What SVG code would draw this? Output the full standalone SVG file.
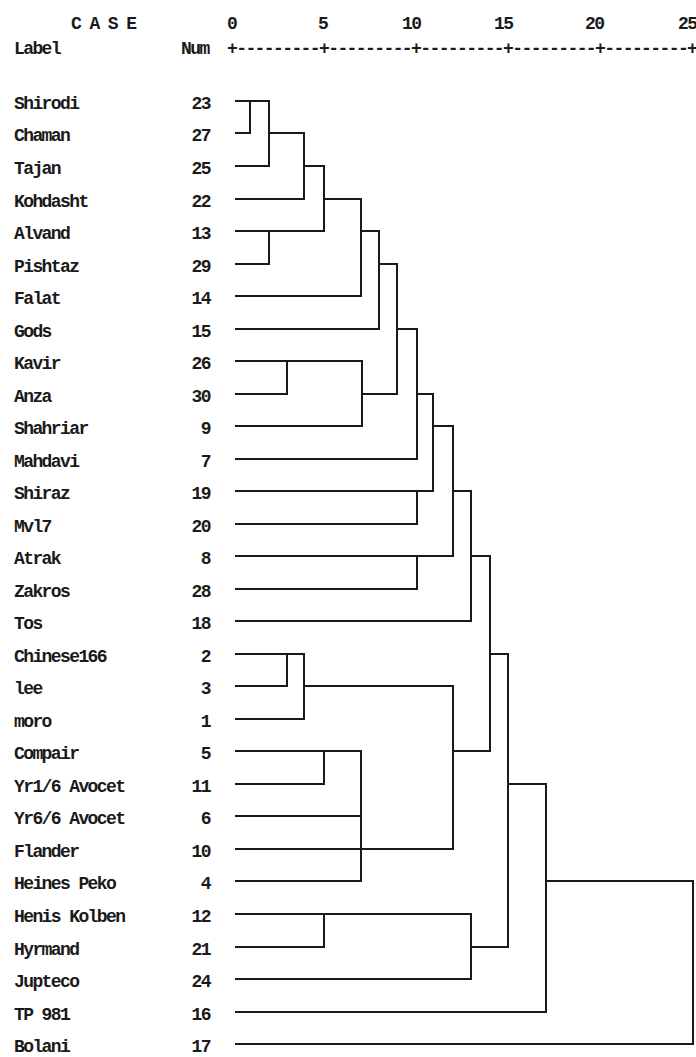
<svg xmlns="http://www.w3.org/2000/svg" width="696" height="1057" viewBox="0 0 696 1057">
<style>
text{font-family:"Liberation Mono","DejaVu Sans Mono",monospace;font-size:18px;letter-spacing:-1.6px;font-weight:bold;fill:#1a1a1a}
.num{text-anchor:end}
#connectors line{stroke:#1a1a1a;stroke-width:2;stroke-linecap:square}
</style>
<rect width="696" height="1057" fill="#fff"/>
<g id="header">
<text x="71" y="29">C A S E</text>
<text x="14" y="54">Label</text>
<text x="181" y="54">Num</text>
<text x="227" y="54">+---------+---------+---------+---------+---------+</text>
<text x="227" y="29">0</text>
<text x="318" y="29">5</text>
<text x="402" y="29">10</text>
<text x="494" y="29">15</text>
<text x="585" y="29">20</text>
<text x="678" y="29">25</text>
</g>
<g id="leaf-shirodi"><text x="14" y="109">Shirodi</text><text class="num" x="210" y="109">23</text></g>
<g id="leaf-chaman"><text x="14" y="141">Chaman</text><text class="num" x="210" y="141">27</text></g>
<g id="leaf-tajan"><text x="14" y="174">Tajan</text><text class="num" x="210" y="174">25</text></g>
<g id="leaf-kohdasht"><text x="14" y="207">Kohdasht</text><text class="num" x="210" y="207">22</text></g>
<g id="leaf-alvand"><text x="14" y="239">Alvand</text><text class="num" x="210" y="239">13</text></g>
<g id="leaf-pishtaz"><text x="14" y="272">Pishtaz</text><text class="num" x="210" y="272">29</text></g>
<g id="leaf-falat"><text x="14" y="304">Falat</text><text class="num" x="210" y="304">14</text></g>
<g id="leaf-gods"><text x="14" y="337">Gods</text><text class="num" x="210" y="337">15</text></g>
<g id="leaf-kavir"><text x="14" y="369">Kavir</text><text class="num" x="210" y="369">26</text></g>
<g id="leaf-anza"><text x="14" y="402">Anza</text><text class="num" x="210" y="402">30</text></g>
<g id="leaf-shahriar"><text x="14" y="434">Shahriar</text><text class="num" x="210" y="434">9</text></g>
<g id="leaf-mahdavi"><text x="14" y="467">Mahdavi</text><text class="num" x="210" y="467">7</text></g>
<g id="leaf-shiraz"><text x="14" y="499">Shiraz</text><text class="num" x="210" y="499">19</text></g>
<g id="leaf-mvl7"><text x="14" y="532">Mvl7</text><text class="num" x="210" y="532">20</text></g>
<g id="leaf-atrak"><text x="14" y="564">Atrak</text><text class="num" x="210" y="564">8</text></g>
<g id="leaf-zakros"><text x="14" y="597">Zakros</text><text class="num" x="210" y="597">28</text></g>
<g id="leaf-tos"><text x="14" y="629">Tos</text><text class="num" x="210" y="629">18</text></g>
<g id="leaf-chinese166"><text x="14" y="662">Chinese166</text><text class="num" x="210" y="662">2</text></g>
<g id="leaf-lee"><text x="14" y="694">lee</text><text class="num" x="210" y="694">3</text></g>
<g id="leaf-moro"><text x="14" y="727">moro</text><text class="num" x="210" y="727">1</text></g>
<g id="leaf-compair"><text x="14" y="759">Compair</text><text class="num" x="210" y="759">5</text></g>
<g id="leaf-yr16"><text x="14" y="792">Yr1/6 Avocet</text><text class="num" x="210" y="792">11</text></g>
<g id="leaf-yr66"><text x="14" y="824">Yr6/6 Avocet</text><text class="num" x="210" y="824">6</text></g>
<g id="leaf-flander"><text x="14" y="857">Flander</text><text class="num" x="210" y="857">10</text></g>
<g id="leaf-heines"><text x="14" y="889">Heines Peko</text><text class="num" x="210" y="889">4</text></g>
<g id="leaf-henis"><text x="14" y="922">Henis Kolben</text><text class="num" x="210" y="922">12</text></g>
<g id="leaf-hyrmand"><text x="14" y="955">Hyrmand</text><text class="num" x="210" y="955">21</text></g>
<g id="leaf-jupteco"><text x="14" y="987">Jupteco</text><text class="num" x="210" y="987">24</text></g>
<g id="leaf-tp981"><text x="14" y="1020">TP 981</text><text class="num" x="210" y="1020">16</text></g>
<g id="leaf-bolani"><text x="14" y="1052">Bolani</text><text class="num" x="210" y="1052">17</text></g>
<g id="connectors">
<line x1="236" y1="101" x2="269" y2="101"/>
<line x1="236" y1="133" x2="250" y2="133"/>
<line x1="236" y1="166" x2="269" y2="166"/>
<line x1="236" y1="199" x2="304" y2="199"/>
<line x1="236" y1="231" x2="324" y2="231"/>
<line x1="236" y1="264" x2="269" y2="264"/>
<line x1="236" y1="296" x2="361" y2="296"/>
<line x1="236" y1="329" x2="379" y2="329"/>
<line x1="236" y1="361" x2="362" y2="361"/>
<line x1="236" y1="394" x2="287" y2="394"/>
<line x1="236" y1="426" x2="362" y2="426"/>
<line x1="236" y1="459" x2="417" y2="459"/>
<line x1="236" y1="491" x2="433" y2="491"/>
<line x1="236" y1="524" x2="417" y2="524"/>
<line x1="236" y1="556" x2="453" y2="556"/>
<line x1="236" y1="589" x2="417" y2="589"/>
<line x1="236" y1="621" x2="471" y2="621"/>
<line x1="236" y1="654" x2="304" y2="654"/>
<line x1="236" y1="686" x2="287" y2="686"/>
<line x1="236" y1="719" x2="304" y2="719"/>
<line x1="236" y1="751" x2="361" y2="751"/>
<line x1="236" y1="784" x2="324" y2="784"/>
<line x1="236" y1="816" x2="361" y2="816"/>
<line x1="236" y1="849" x2="453" y2="849"/>
<line x1="236" y1="881" x2="361" y2="881"/>
<line x1="236" y1="914" x2="471" y2="914"/>
<line x1="236" y1="947" x2="324" y2="947"/>
<line x1="236" y1="979" x2="471" y2="979"/>
<line x1="236" y1="1012" x2="546" y2="1012"/>
<line x1="236" y1="1044" x2="693" y2="1044"/>
<line x1="250" y1="101" x2="250" y2="133"/>
<line x1="269" y1="101" x2="269" y2="166"/>
<line x1="269" y1="231" x2="269" y2="264"/>
<line x1="304" y1="133" x2="304" y2="199"/>
<line x1="324" y1="166" x2="324" y2="231"/>
<line x1="361" y1="199" x2="361" y2="296"/>
<line x1="379" y1="231" x2="379" y2="329"/>
<line x1="287" y1="361" x2="287" y2="394"/>
<line x1="362" y1="361" x2="362" y2="426"/>
<line x1="397" y1="264" x2="397" y2="394"/>
<line x1="417" y1="329" x2="417" y2="459"/>
<line x1="433" y1="394" x2="433" y2="491"/>
<line x1="417" y1="491" x2="417" y2="524"/>
<line x1="453" y1="426" x2="453" y2="556"/>
<line x1="417" y1="556" x2="417" y2="589"/>
<line x1="471" y1="491" x2="471" y2="621"/>
<line x1="490" y1="556" x2="490" y2="751"/>
<line x1="287" y1="654" x2="287" y2="686"/>
<line x1="304" y1="654" x2="304" y2="719"/>
<line x1="324" y1="751" x2="324" y2="784"/>
<line x1="361" y1="751" x2="361" y2="881"/>
<line x1="453" y1="686" x2="453" y2="849"/>
<line x1="508" y1="654" x2="508" y2="947"/>
<line x1="324" y1="914" x2="324" y2="947"/>
<line x1="471" y1="914" x2="471" y2="979"/>
<line x1="546" y1="784" x2="546" y2="1012"/>
<line x1="693" y1="881" x2="693" y2="1044"/>
<line x1="269" y1="133" x2="304" y2="133"/>
<line x1="304" y1="166" x2="324" y2="166"/>
<line x1="324" y1="199" x2="361" y2="199"/>
<line x1="361" y1="231" x2="379" y2="231"/>
<line x1="379" y1="264" x2="397" y2="264"/>
<line x1="362" y1="394" x2="397" y2="394"/>
<line x1="397" y1="329" x2="417" y2="329"/>
<line x1="417" y1="394" x2="433" y2="394"/>
<line x1="433" y1="426" x2="453" y2="426"/>
<line x1="453" y1="491" x2="471" y2="491"/>
<line x1="471" y1="556" x2="490" y2="556"/>
<line x1="304" y1="686" x2="453" y2="686"/>
<line x1="453" y1="751" x2="490" y2="751"/>
<line x1="490" y1="654" x2="508" y2="654"/>
<line x1="471" y1="947" x2="508" y2="947"/>
<line x1="508" y1="784" x2="546" y2="784"/>
<line x1="546" y1="881" x2="693" y2="881"/>
</g>
</svg>
